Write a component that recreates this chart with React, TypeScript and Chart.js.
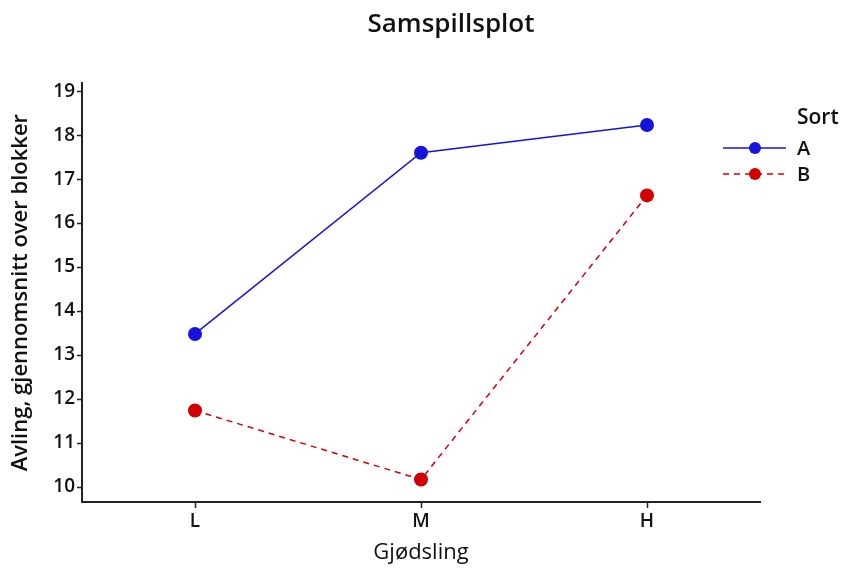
import React, { useEffect, useRef } from "react";
import { Chart, registerables } from "chart.js";

Chart.register(...registerables);

const categories = ["L", "M", "H"];
const seriesNames = ["A", "B"];
const valuesA = [13.48, 17.6, 18.23];
const valuesB = [11.74, 10.17, 16.63];
const yTicks = [10, 11, 12, 13, 14, 15, 16, 17, 18, 19];

const BLUE = "rgb(20,20,222)";
const RED = "rgb(210,0,0)";
const FONT = "'Open Sans', 'Noto Sans', sans-serif";

const titleShift = {
  id: "titleShift",
  afterLayout(chart: any) {
    if (chart.titleBlock) {
      chart.titleBlock.left = 56;
      chart.titleBlock.right = 846;
    }
  },
};

const legendPlugin = {
  id: "sideLegend",
  afterDraw(chart: any) {
    const ctx = chart.ctx;
    ctx.save();
    ctx.fillStyle = "#111";
    ctx.textBaseline = "middle";
    ctx.textAlign = "left";
    ctx.font = `600 21px ${FONT}`;
    ctx.fillText("Sort", 797, 118);
    chart.data.datasets.forEach((ds: any, i: number) => {
      const y = 148 + i * 26;
      ctx.strokeStyle = ds.borderColor;
      ctx.lineWidth = ds.borderWidth;
      ctx.setLineDash(ds.borderDash || []);
      ctx.beginPath();
      ctx.moveTo(723, y);
      ctx.lineTo(786, y);
      ctx.stroke();
      ctx.setLineDash([]);
      ctx.fillStyle = ds.pointBackgroundColor;
      ctx.beginPath();
      ctx.arc(755, y, 6, 0, Math.PI * 2);
      ctx.fill();
      ctx.fillStyle = "#111";
      ctx.font = `600 20px ${FONT}`;
      ctx.fillText(ds.label, 797, y + 1);
    });
    ctx.restore();
  },
};

export default function App() {
  const ref = useRef<HTMLCanvasElement>(null);
  useEffect(() => {
    if (!ref.current) return;
    const chart = new Chart(ref.current, {
      type: "line",
      data: {
        labels: categories,
        datasets: [
          {
            label: seriesNames[0],
            data: valuesA,
            borderColor: BLUE,
            backgroundColor: BLUE,
            pointBackgroundColor: BLUE,
            pointBorderColor: BLUE,
            borderWidth: 1.5,
            pointRadius: 7,
            pointBorderWidth: 0,
            tension: 0,
          },
          {
            label: seriesNames[1],
            data: valuesB,
            borderColor: RED,
            backgroundColor: RED,
            pointBackgroundColor: RED,
            pointBorderColor: RED,
            borderWidth: 1.5,
            borderDash: [6, 5],
            pointRadius: 7,
            pointBorderWidth: 0,
            tension: 0,
          },
        ],
      },
      options: {
        animation: false,
        responsive: true,
        maintainAspectRatio: false,
        layout: { padding: { left: 0, right: 86, top: 0, bottom: 0 } },
        plugins: {
          legend: { display: false },
          tooltip: { enabled: false },
          title: {
            display: true,
            text: "Samspillsplot",
            color: "#111",
            font: { family: FONT, size: 26, weight: 600 },
            padding: { top: 9, bottom: 43 },
          },
        },
        scales: {
          x: {
            type: "category",
            offset: true,
            grid: {
              display: true,
              drawOnChartArea: false,
              drawTicks: true,
              tickLength: 6,
              color: "#222",
              tickWidth: 1.5,
            },
            border: { display: true, color: "#222", width: 2 },
            ticks: {
              color: "#111",
              padding: 2,
              font: { family: FONT, size: 19, weight: 600 },
            },
            title: {
              display: true,
              text: "Gjødsling",
              color: "#111",
              font: { family: FONT, size: 22, weight: 500 },
              padding: { top: 0, bottom: 3 },
            },
            afterFit(scale: any) {
              scale.height = 67;
            },
          },
          y: {
            type: "linear",
            min: 9.66,
            max: 19.18,
            grid: {
              display: true,
              drawOnChartArea: false,
              drawTicks: true,
              tickLength: 5,
              color: "#222",
              tickWidth: 1.5,
            },
            border: { display: true, color: "#222", width: 2 },
            afterBuildTicks(scale: any) {
              scale.ticks = yTicks.map((v) => ({ value: v }));
            },
            ticks: {
              color: "#111",
              padding: 2,
              includeBounds: false,
              font: { family: FONT, size: 19, weight: 600 },
            },
            title: {
              display: true,
              text: "Avling, gjennomsnitt over blokker",
              color: "#111",
              font: { family: FONT, size: 22, weight: 600 },
              padding: { top: 8, bottom: 0 },
            },
            afterFit(scale: any) {
              scale.width = 82;
            },
          },
        },
      },
      plugins: [titleShift, legendPlugin],
    });
    return () => chart.destroy();
  }, []);

  return (
    <div style={{ position: "fixed", left: 0, top: 0, width: 846, height: 569, background: "#fff" }}>
      <canvas ref={ref} />
    </div>
  );
}
